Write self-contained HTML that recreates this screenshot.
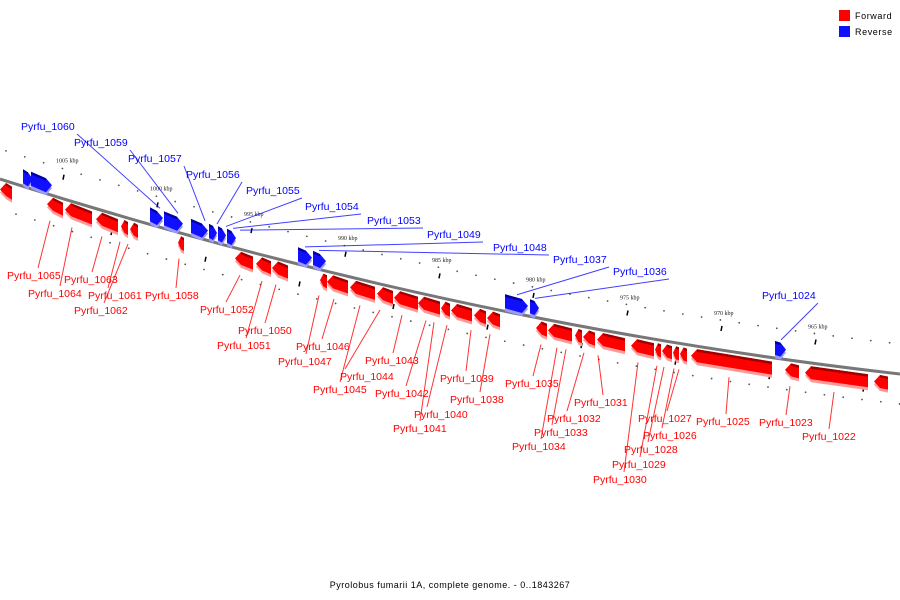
<!DOCTYPE html>
<html><head><meta charset="utf-8"><style>
html,body{margin:0;padding:0;background:#fff;}
svg{display:block;font-family:"Liberation Sans","DejaVu Sans",sans-serif;}
</style></head><body>
<svg id="chart" width="900" height="600" viewBox="0 0 900 600" xmlns="http://www.w3.org/2000/svg">
<g id="ticks"></g>
<g id="leaders"></g>
<path id="backbone" d="M0,179 Q450,323 900,374" fill="none" stroke="#777" stroke-width="3"/>
<g id="genes"></g>
<g id="labels"></g>
<g>
<rect x="839" y="10" width="11" height="11" fill="#ff0000"/>
<text x="855" y="19" font-size="9" letter-spacing="0.6" fill="#000">Forward</text>
<rect x="839" y="26" width="11" height="11" fill="#1010ff"/>
<text x="855" y="35" font-size="9" letter-spacing="0.6" fill="#000">Reverse</text>
</g>
<text x="450" y="588" font-size="9" text-anchor="middle" letter-spacing="0.5" fill="#000">Pyrolobus fumarii 1A, complete genome. - 0..1843267</text>
</svg>
<script>
// gene extents in px along backbone and strand (1 forward, -1 reverse)
const geneStart = [0,47,65,96,121,130,178,235,256,272,320,327,350,377,394,418,441,451,474,487,536,548,575,583,597,631,655,662,673,680,691,785,805,874, 23,31,150,164,191,209,218,227,298,313,505,530,775];
const geneEnd   = [12,63,92,118,128,138,184,253,271,288,327,348,375,393,418,440,450,472,486,500,547,572,582,595,625,654,661,672,679,687,772,799,868,888, 33,52,163,183,208,217,226,236,312,326,528,539,786];
const geneStrand= [1,1,1,1,1,1,1,1,1,1,1,1,1,1,1,1,1,1,1,1,1,1,1,1,1,1,1,1,1,1,1,1,1,1, -1,-1,-1,-1,-1,-1,-1,-1,-1,-1,-1,-1,-1];
// labels
const labelNames = ["Pyrfu_1065","Pyrfu_1064","Pyrfu_1063","Pyrfu_1061","Pyrfu_1062","Pyrfu_1058","Pyrfu_1052","Pyrfu_1050","Pyrfu_1051","Pyrfu_1046","Pyrfu_1047","Pyrfu_1044","Pyrfu_1045","Pyrfu_1043","Pyrfu_1042","Pyrfu_1040","Pyrfu_1041","Pyrfu_1039","Pyrfu_1038","Pyrfu_1035","Pyrfu_1033","Pyrfu_1034","Pyrfu_1032","Pyrfu_1031","Pyrfu_1027","Pyrfu_1026","Pyrfu_1028","Pyrfu_1029","Pyrfu_1030","Pyrfu_1025","Pyrfu_1023","Pyrfu_1022",
"Pyrfu_1060","Pyrfu_1059","Pyrfu_1057","Pyrfu_1056","Pyrfu_1055","Pyrfu_1054","Pyrfu_1053","Pyrfu_1049","Pyrfu_1048","Pyrfu_1037","Pyrfu_1036","Pyrfu_1024"];
const labelX = [7,28,64,88,74,145,200,238,217,296,278,340,313,365,375,414,393,440,450,505,534,512,547,574,638,643,624,612,593,696,759,802, 21,74,128,186,246,305,367,427,493,553,613,762];
const labelY = [279,297,283,299,314,299,313,334,349,350,365,380,393,364,397,418,432,382,403,387,436,450,422,406,422,439,453,468,483,425,426,440, 130,146,162,178,194,210,224,238,251,263,275,299];
// genomic anchor (px along backbone) of each labelled gene
const labelGeneX = [50,72,102,120,128,179,240,276,262,334,319,380,360,402,426,447,434,471,490,541,566,557,584,598,679,674,664,657,638,729,790,834, 160,178,205,217,226,233,240,305,319,517,535,781];
const kbpVals = [1005,1000,995,990,985,980,975,970,965];

const NS="http://www.w3.org/2000/svg";
function curveY(x){const t=x/900;return (1-t)*(1-t)*179+2*t*(1-t)*323+t*t*374;}
function kbpToX(k){return 56+(1005-k)*18.8;}
function mk(tag,attrs,parent){const e=document.createElementNS(NS,tag);for(const k in attrs)e.setAttribute(k,attrs[k]);parent.appendChild(e);return e;}
function pts(a){return a.map(p=>p[0].toFixed(1)+","+p[1].toFixed(1)).join(" ");}

// ticks
const tg=document.getElementById('ticks');
for(let x=6;x<900;x+=18.8){
  const d1=mk('circle',{cx:x,cy:curveY(x)-30,r:0.9,fill:'#555'},tg);
  
  
  const d2=mk('circle',{cx:x+10,cy:curveY(x+10)+30,r:0.9,fill:'#555'},tg);
  
  
}
kbpVals.forEach(k=>{
  const x=kbpToX(k);
  const t=mk('text',{x:x,y:curveY(x)-34,'font-size':6,'font-family':'Liberation Serif, serif',fill:'#222'},tg);
  t.textContent=k+" kbp";
  
  
  const m=mk('line',{x1:x+7,y1:curveY(x+7)-19,x2:x+8,y2:curveY(x+7)-24,stroke:'#000','stroke-width':1.5},tg);
  
  
  const m2=mk('line',{x1:x+55,y1:curveY(x+55)+22,x2:x+56,y2:curveY(x+55)+17,stroke:'#000','stroke-width':1.5},tg);
  
  
});

// genes
const gg=document.getElementById('genes');
for(let i=0;i<geneStart.length;i++){
  const x0=geneStart[i],x1=geneEnd[i],s=geneStrand[i];
  const y0=curveY(x0),y1=curveY(x1);
  const top=s>0?4:-17,bot=s>0?17:-3;
  const ah=Math.min(6,(x1-x0)*0.5);
  let shape;
  if(s>0){
    shape=(dy)=>[[x0+ah,y0+top+dy],[x1,y1+top+dy],[x1,y1+bot+dy],[x0+ah,y0+bot+dy],[x0,y0+(top+bot)/2+dy]];
  }else{
    shape=(dy)=>[[x0,y0+top+dy],[x1-ah,y1+top+dy],[x1,y1+(top+bot)/2+dy],[x1-ah,y1+bot+dy],[x0,y0+bot+dy]];
  }
  const g=mk('g',{},gg);
  
  
  mk('polygon',{points:pts(shape(3)),fill:s>0?'#ff9a9a':'#9a9aff'},g);
  mk('polygon',{points:pts(shape(0)),fill:s>0?'#ff0000':'#1010ff'},g);
  const band=s>0?[[x0+ah,y0+top],[x1,y1+top],[x1,y1+top+2.5],[x0+ah,y0+top+2.5]]:[[x0,y0+top],[x1-ah,y1+top],[x1-ah,y1+top+2.5],[x0,y0+top+2.5]];
  mk('polygon',{points:pts(band),fill:s>0?'#a00000':'#0000a0'},g);
}

// labels and leaders
const lg=document.getElementById('labels'),ld=document.getElementById('leaders');
const fwdLeaderDx=[31,32,28,20,30,31,26,27,29,26,28,5,27,28,31,13,27,26,30,28,18,29,20,29,29,19,24,28,31,30,27,27];
for(let i=0;i<labelNames.length;i++){
  const fwd=i<32;
  const col=fwd?'#ff0000':'#0000ff';
  const t=mk('text',{x:labelX[i],y:labelY[i],'font-size':10.5,fill:col},lg);
  t.textContent=labelNames[i];
  
  
  const gx=labelGeneX[i];
  let l;
  if(fwd){
    l=mk('line',{x1:gx,y1:curveY(gx)+26,x2:labelX[i]+fwdLeaderDx[i],y2:labelY[i]-11,stroke:col,'stroke-width':1,opacity:0.8},ld);
  }else{
    l=mk('line',{x1:gx,y1:curveY(gx)-19,x2:labelX[i]+56,y2:labelY[i]+4,stroke:col,'stroke-width':1,opacity:0.75},ld);
  }
  
  
}
</script>
</body></html>
